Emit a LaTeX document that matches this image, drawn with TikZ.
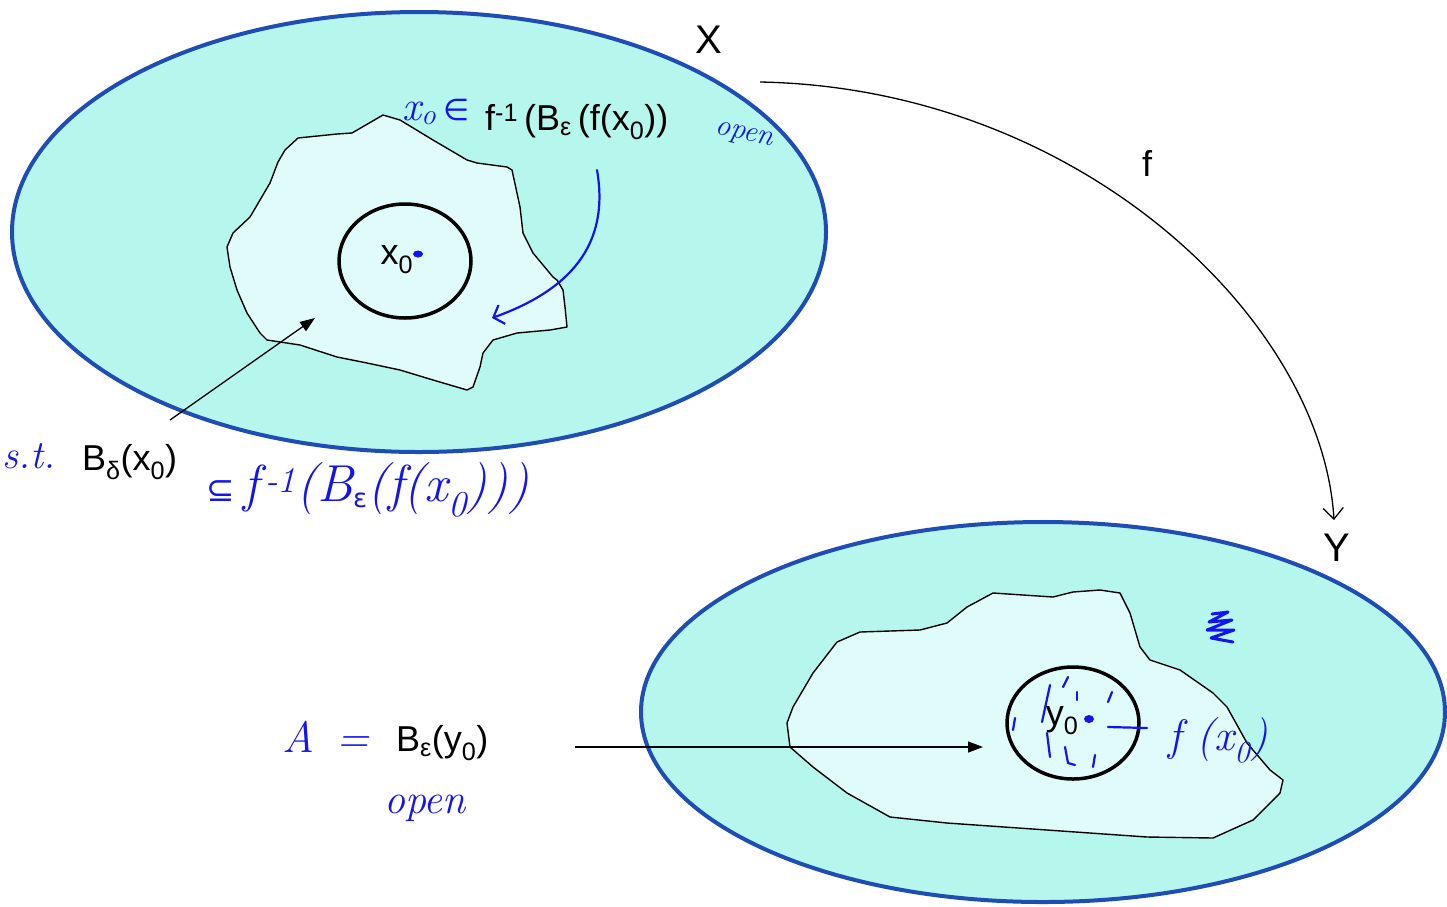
\documentclass[tikz,border=0pt]{standalone}
\usepackage{fontspec}
\newfontfamily\arial{Liberation Sans}
\newfontfamily\symf{DejaVu Sans}
\usetikzlibrary{arrows.meta,shapes.geometric}
\definecolor{aqua}{HTML}{B5F7EC}
\definecolor{pale}{HTML}{DFFCFA}
\definecolor{rimblue}{HTML}{1F4DB5}
\definecolor{ink}{HTML}{1414F0}
\newcommand{\heps}{{\symf\upshape\fontsize{26}{28}\selectfont ε}}
\begin{document}
\begin{tikzpicture}[x=1pt,y=-1pt,
  lbl/.style={font=\arial\fontsize{36}{40}\selectfont, inner sep=0pt},
  big/.style={font=\arial\fontsize{40}{44}\selectfont, inner sep=0pt},
  hw/.style={text=ink, font=\itshape\fontsize{36}{40}\selectfont, inner sep=0pt},
  space/.style={fill=aqua, draw=rimblue, line width=4pt},
  blob/.style={fill=pale, draw=black, line width=1.4pt, line join=round},
  ball/.style={draw=black, line width=3.5pt, ellipse, inner sep=0pt},
  pointer/.style={draw=black, line width=1.3pt, -{Triangle[length=15pt,width=11pt]}},
  stroke/.style={draw=ink, line width=2.2pt, line cap=round},
  dotm/.style={fill=ink, draw=none},
]
\useasboundingbox (0,0) rectangle (1447,906);

% spaces X and Y
\draw[space] (419,232) ellipse [x radius=407pt, y radius=220pt];
\draw[space] (1043,712) ellipse [x radius=402pt, y radius=190pt];

% open set in X
\draw[blob] (383,115) -- (400,120) -- (433,140) -- (467,160) -- (477,163) -- (507,167) -- (512,170)
  -- (520,207) -- (523,233) -- (533,253) -- (553,277) -- (557,280) -- (563,290) -- (565,307)
  -- (567,327) -- (550,330) -- (517,333) -- (493,340) -- (483,353) -- (480,367) -- (473,387)
  -- (467,390) -- (433,380) -- (400,370) -- (367,363) -- (337,357) -- (300,345) -- (267,340)
  -- (260,333) -- (247,313) -- (237,290) -- (230,267) -- (227,247) -- (233,233) -- (250,217)
  -- (260,200) -- (270,183) -- (278,162) -- (285,150) -- (298,138) -- (337,134) -- (352,133) -- cycle;

% open set in Y
\draw[blob] (787,723) -- (790,747) -- (813,767) -- (847,793) -- (890,817) -- (947,823)
  -- (1047,830) -- (1147,837) -- (1213,838) -- (1253,820) -- (1280,793) -- (1283,780)
  -- (1270,770) -- (1247,743) -- (1227,707) -- (1213,693) -- (1180,670) -- (1150,660)
  -- (1140,647) -- (1130,613) -- (1120,593) -- (1100,590) -- (1073,592) -- (1053,597)
  -- (993,593) -- (980,600) -- (967,607) -- (947,623) -- (920,630) -- (860,632)
  -- (837,642) -- (813,673) -- (793,707) -- cycle;

% balls
\node[ball, minimum width=132pt, minimum height=114pt] (bx) at (405,261) {};
\node[ball, minimum width=132pt, minimum height=112pt] (by) at (1073,723) {};

% black labels
\node[big] (X) at (709,40) {X};
\node[big] (Y) at (1337,548) {Y};
\node[lbl] (f) at (1147,163) {f};
\node[lbl] (x0) at (397,260) {x\textsubscript{0}};
\node[lbl] (y0) at (1062,721) {y\textsubscript{0}};
\node[lbl, anchor=west] (pre) at (485,122) {f\textsuperscript{-1}\,(B\textsubscript{ε}\,(f(x\textsubscript{0}))};
\node[lbl, anchor=west] (bd) at (82,462) {B\textsubscript{δ}(x\textsubscript{0})};
\node[lbl, anchor=west] (be) at (396,743) {B\textsubscript{ε}(y\textsubscript{0})};

% arrows
\coordinate (fs) at (760,82);
\coordinate (fe) at (1334,520);
\draw[line width=1.3pt, -{Straight Barb[length=11pt,width=20pt]}] (fs) .. controls (1080,88) and (1322,320) .. (fe);
\coordinate (ps) at (170,420);
\coordinate (pe) at (315,318);
\draw[pointer] (ps) -- (pe);
\coordinate (qs) at (575,747);
\coordinate (qe) at (983,747);
\draw[pointer] (qs) -- (qe);

% handwritten annotations
\fill[dotm] (418,254) ellipse [x radius=5pt, y radius=3.5pt];
\fill[dotm] (1089,719) ellipse [x radius=5pt, y radius=4pt];
\draw[stroke, -{Straight Barb[length=9pt,width=20pt]}] (597,170) .. controls (610,245) and (570,290) .. (492,318);
\node[hw, anchor=west, font=\itshape\fontsize{42}{46}\selectfont] (xin) at (402,112) {x\textsubscript{o}\,{\symf\upshape\fontsize{30}{32}\selectfont ∈}};
\node[hw, rotate=-12, font=\itshape\fontsize{30}{34}\selectfont] (op1) at (744,136) {open};
\node[hw, font=\itshape\fontsize{40}{44}\selectfont] (st) at (29,456) {s.t.};
\node[hw, anchor=west, font=\itshape\fontsize{52}{56}\selectfont] (sub) at (206,490) {{\symf\upshape\fontsize{34}{36}\selectfont ⊆}\,f\textsuperscript{\,-1}(B\textsubscript{\heps}(f(x\textsubscript{0})))};
\node[hw, font=\itshape\fontsize{44}{48}\selectfont] (A) at (326,737) {A\, =};
\node[hw, font=\itshape\fontsize{42}{46}\selectfont] (op2) at (425,808) {open};
\node[hw, font=\itshape\fontsize{44}{48}\selectfont] (fx) at (1218,740) {f (x\textsubscript{0})};
% hatch marks in the ball around y0
\draw[stroke] (1015,718) -- (1013,730);
\draw[stroke] (1050,685) -- (1042,722);
\draw[stroke] (1068,677) -- (1063,687);
\draw[stroke] (1077,692) -- (1077,700);
\draw[stroke] (1112,692) -- (1108,702);
\draw[stroke] (1047,733) -- (1050,757);
\draw[stroke] (1065,747) -- (1068,763) -- (1075,765);
\draw[stroke] (1095,755) -- (1093,767);
\draw[stroke] (1108,727) -- (1147,728);
% scribble
\draw[stroke, line width=3pt, line join=round] (1212,614) -- (1228,612) -- (1209,622) -- (1232,620) -- (1207,630) -- (1234,630) -- (1211,638) -- (1233,642);
\end{tikzpicture}
\end{document}
